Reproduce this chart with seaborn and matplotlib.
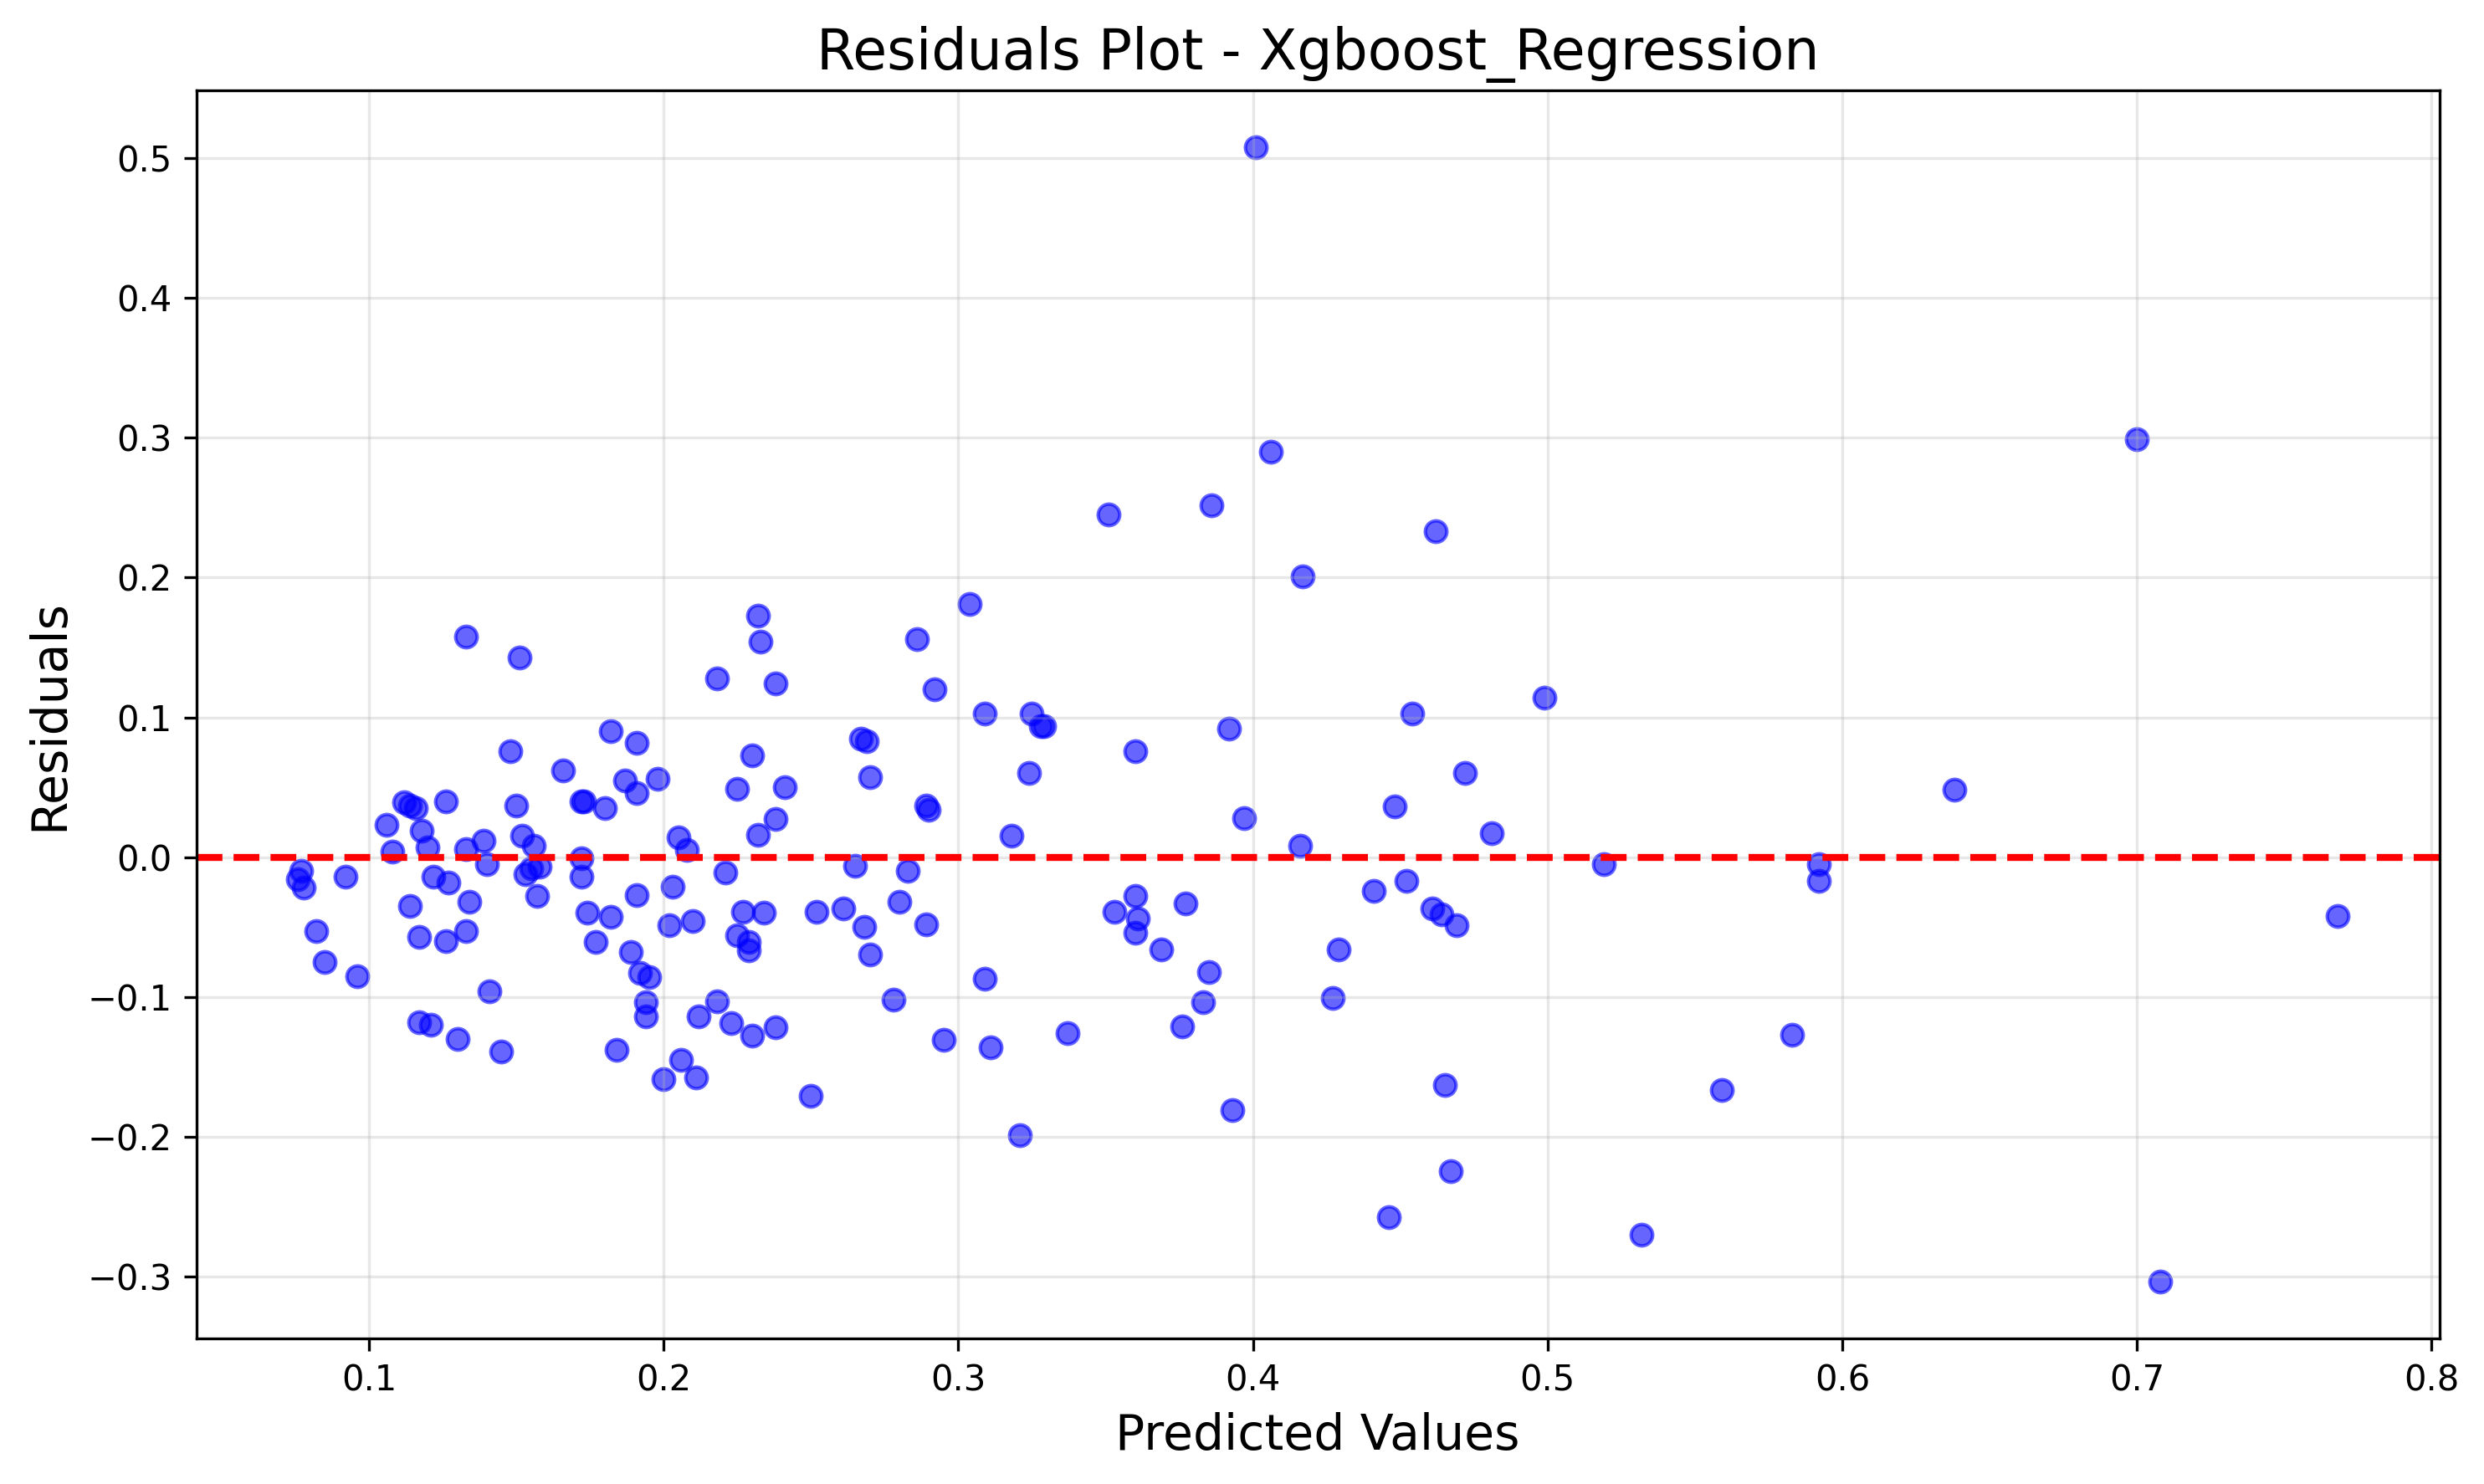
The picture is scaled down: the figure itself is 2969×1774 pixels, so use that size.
import matplotlib
matplotlib.use("Agg")
import matplotlib.pyplot as plt
import seaborn as sns
import pandas as pd

# Predicted values and residuals
predicted = [
    0.076, 0.077, 0.078, 0.082, 0.085, 0.092, 0.096, 0.106, 0.108, 0.112,
    0.114, 0.116, 0.114, 0.117, 0.118, 0.120, 0.117, 0.121, 0.122, 0.126,
    0.127, 0.126, 0.130, 0.133, 0.133, 0.133, 0.134, 0.139, 0.140, 0.141,
    0.145, 0.148, 0.150, 0.151, 0.152, 0.153, 0.155, 0.156, 0.158, 0.157,
    0.166, 0.172, 0.173, 0.172, 0.172, 0.174, 0.177, 0.180, 0.182, 0.182,
    0.184, 0.187, 0.189, 0.191, 0.191, 0.191, 0.192, 0.195, 0.194, 0.194,
    0.198, 0.200, 0.202, 0.203, 0.205, 0.208, 0.206, 0.210, 0.212, 0.211,
    0.218, 0.218, 0.221, 0.223, 0.225, 0.225, 0.227, 0.229, 0.229, 0.230,
    0.232, 0.233, 0.232, 0.230, 0.234, 0.238, 0.238, 0.238, 0.241, 0.250,
    0.252, 0.261, 0.265, 0.267, 0.269, 0.268, 0.270, 0.270, 0.278, 0.280,
    0.283, 0.286, 0.289, 0.290, 0.289, 0.292, 0.295, 0.304, 0.309, 0.309,
    0.311, 0.318, 0.321, 0.324, 0.325, 0.328, 0.329, 0.337, 0.351, 0.353,
    0.360, 0.360, 0.361, 0.360, 0.369, 0.376, 0.377, 0.383, 0.385, 0.386,
    0.392, 0.393, 0.397, 0.401, 0.406, 0.416, 0.417, 0.427, 0.429, 0.441,
    0.446, 0.448, 0.452, 0.454, 0.461, 0.462, 0.464, 0.465, 0.467, 0.469,
    0.472, 0.481, 0.499, 0.519, 0.532, 0.559, 0.583, 0.592, 0.592, 0.638,
    0.700, 0.708, 0.768,
]
residuals = [
    -0.016, -0.010, -0.022, -0.053, -0.075, -0.014, -0.085, 0.023, 0.004, 0.039,
    0.037, 0.035, -0.035, -0.057, 0.019, 0.007, -0.118, -0.120, -0.014, 0.040,
    -0.018, -0.060, -0.130, 0.158, 0.006, -0.053, -0.032, 0.012, -0.005, -0.096,
    -0.139, 0.076, 0.037, 0.143, 0.015, -0.012, -0.008, 0.008, -0.007, -0.028,
    0.062, 0.040, 0.040, -0.001, -0.014, -0.040, -0.061, 0.035, 0.090, -0.043,
    -0.138, 0.055, -0.068, 0.082, 0.046, -0.027, -0.083, -0.086, -0.104, -0.114,
    0.056, -0.159, -0.049, -0.021, 0.014, 0.005, -0.145, -0.046, -0.114, -0.158,
    0.128, -0.103, -0.011, -0.119, 0.049, -0.056, -0.039, -0.061, -0.067, 0.073,
    0.173, 0.154, 0.016, -0.128, -0.040, 0.124, 0.027, -0.122, 0.050, -0.171,
    -0.039, -0.037, -0.006, 0.085, 0.083, -0.050, 0.057, -0.070, -0.102, -0.032,
    -0.010, 0.156, 0.037, 0.034, -0.048, 0.120, -0.131, 0.181, 0.103, -0.087,
    -0.136, 0.015, -0.199, 0.060, 0.103, 0.094, 0.094, -0.126, 0.245, -0.039,
    0.076, -0.028, -0.044, -0.054, -0.066, -0.121, -0.033, -0.104, -0.082, 0.252,
    0.092, -0.181, 0.028, 0.508, 0.290, 0.008, 0.201, -0.101, -0.066, -0.024,
    -0.258, 0.036, -0.017, 0.103, -0.037, 0.233, -0.041, -0.163, -0.225, -0.049,
    0.060, 0.017, 0.114, -0.005, -0.270, -0.167, -0.127, -0.005, -0.017, 0.048,
    0.299, -0.304, -0.042,
]

df = pd.DataFrame({"Predicted": predicted, "Residuals": residuals})

fig, ax = plt.subplots(figsize=(2969 / 300, 1774 / 300), dpi=300)
fig.subplots_adjust(left=0.079, right=0.982, top=0.939, bottom=0.098)

sns.scatterplot(data=df, x="Predicted", y="Residuals", ax=ax,
                color="blue", alpha=0.6, edgecolor="blue", linewidth=1, s=38)
ax.axhline(0, color="red", linestyle="--", linewidth=2)

ax.set_title("Residuals Plot - Xgboost_Regression", fontsize=16)
ax.set_xlabel("Predicted Values", fontsize=14)
ax.set_ylabel("Residuals", fontsize=14)
ax.grid(True, alpha=0.3)

fig.savefig("out.png", dpi=300)
